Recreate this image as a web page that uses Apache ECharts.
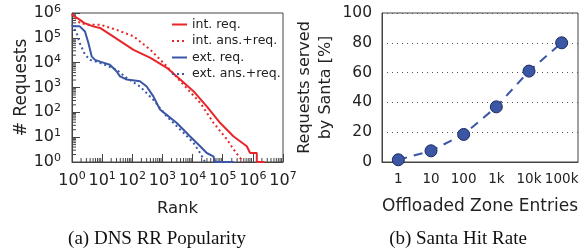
<!DOCTYPE html>
<html>
<head>
<meta charset="utf-8">
<script src="https://cdn.jsdelivr.net/npm/echarts@6/dist/echarts.min.js"></script>
<style>
  html, body { margin: 0; padding: 0; background: #fff; }
  #chart { width: 587px; height: 252px; }
</style>
</head>
<body>
<div id="chart"></div>
<script>
// (a) DNS RR popularity, rank vs. requests (log/log)
var intReqRank   = [1, 1.8, 2.5, 5, 8.5, 23, 110, 400, 1400, 3900, 10700, 29500, 83000, 230000, 630000, 810000, 1350000, 1350000, 2500000];
var intReqCount  = [850000, 540000, 400000, 290000, 250000, 115000, 33000, 15500, 6200, 2100, 710, 174, 37, 10.7, 4.3, 2.3, 2.3, 1, 1];
var intAnsRank   = [1, 1.8, 3.1, 8.5, 30, 110, 400, 1400, 5000, 18000, 50000, 140000, 230000, 340000, 490000];
var intAnsCount  = [930000, 400000, 340000, 340000, 210000, 115000, 33000, 7100, 1300, 240, 37, 8, 3.2, 1.7, 1];
var extReqRank   = [1, 1.8, 2.7, 3.5, 4.5, 5.8, 8.5, 18, 30, 39, 66, 180, 300, 500, 830, 1380, 3000, 8300, 17800, 29500, 49000, 56000, 56000, 230000];
var extReqCount  = [290000, 290000, 180000, 62000, 18000, 13000, 11000, 8300, 4500, 2800, 2100, 1800, 1100, 440, 130, 79, 37, 10.7, 4.3, 2.3, 1.7, 1.7, 1, 1];
var extAnsRank   = [1, 1.43, 1.8, 2.7, 4, 8.5, 30, 66, 180, 500, 1380, 5000, 10700, 17800, 26000];
var extAnsCount  = [340000, 155000, 62000, 21000, 13000, 9800, 5200, 2400, 1100, 320, 69, 15, 5.9, 2.3, 1];

// (b) Santa hit rate
var zoneEntries = ['1', '10', '100', '1k', '10k', '100k'];
var hitRate     = [1.5, 7.5, 18.5, 37, 61, 80];

var RED = '#e8262a';
var BLUE = '#3a56a5';
var FONT = 'DejaVu Sans';

function pairs(xs, ys) {
    var out = [];
    for (var i = 0; i < xs.length; i++) out.push([xs[i], ys[i]]);
    return out;
}

// log minor ticks (2..9 x 10^k), placed through the axes
var minorX = [], minorY = [];
for (var k = 0; k < 7; k++) {
    for (var m = 2; m < 10; m++) {
        minorX.push([m * Math.pow(10, k), 1]);
        if (k < 6) minorY.push([1, m * Math.pow(10, k)]);
    }
}

function powLabel(value) {
    var e = Math.round(Math.log(value) / Math.LN10);
    return '{b|10}{s|' + e + '}';
}
var powRich = {
    b: {fontFamily: FONT, fontSize: 16, color: '#222', lineHeight: 19},
    s: {fontFamily: FONT, fontSize: 11, color: '#222', verticalAlign: 'top', lineHeight: 19}
};

var chart = echarts.init(document.getElementById('chart'));

var option = {
    animation: false,
    backgroundColor: '#fff',
    title: [
        {text: '(a) DNS RR Popularity', left: 152, top: 225, textAlign: 'center',
            textStyle: {fontFamily: 'Liberation Serif', fontSize: 19, fontWeight: 'normal', color: '#111'}},
        {text: '(b) Santa Hit Rate', left: 453, top: 225, textAlign: 'center',
            textStyle: {fontFamily: 'Liberation Serif', fontSize: 19, fontWeight: 'normal', color: '#111'}}
    ],
    legend: {
        orient: 'vertical',
        left: 166,
        top: 13,
        itemWidth: 15,
        itemHeight: 10,
        itemGap: 3.5,
        itemStyle: {opacity: 0},
        textStyle: {fontFamily: FONT, fontSize: 12.5, color: '#222'},
        data: ['int. req.', 'int. ans.+req.', 'ext. req.', 'ext. ans.+req.']
    },
    grid: [
        {left: 72, top: 13, width: 211, height: 149, show: true, borderColor: '#444', borderWidth: 1},
        {left: 382, top: 13, width: 196, height: 149, show: true, borderColor: '#444', borderWidth: 1}
    ],
    xAxis: [
        {
            gridIndex: 0, type: 'log', logBase: 10, min: 1, max: 10000000, splitNumber: 7,
            axisLine: {lineStyle: {color: '#444'}},
            axisTick: {inside: true, length: 8, lineStyle: {color: '#444'}},
            splitLine: {show: false},
            axisLabel: {formatter: powLabel, rich: powRich, margin: 9},
            name: 'Rank', nameLocation: 'middle', nameGap: 38,
            nameTextStyle: {fontFamily: FONT, fontSize: 16.5, color: '#222'}
        },
        {
            gridIndex: 1, type: 'category', data: zoneEntries,
            axisLine: {lineStyle: {color: '#444'}},
            axisTick: {inside: true, alignWithLabel: true, length: 10, lineStyle: {color: '#444'}},
            axisLabel: {fontFamily: FONT, fontSize: 13.5, color: '#222', margin: 10, interval: 0, hideOverlap: false},
            name: 'Offloaded Zone Entries', nameLocation: 'middle', nameGap: 36,
            nameTextStyle: {fontFamily: FONT, fontSize: 17, color: '#222'}
        }
    ],
    yAxis: [
        {
            gridIndex: 0, type: 'log', logBase: 10, min: 1, max: 1000000, splitNumber: 6,
            axisLine: {lineStyle: {color: '#444'}},
            axisTick: {inside: true, length: 8, lineStyle: {color: '#444'}},
            splitLine: {show: false},
            axisLabel: {formatter: powLabel, rich: powRich, margin: 11},
            name: '# Requests', nameLocation: 'middle', nameGap: 42,
            nameTextStyle: {fontFamily: FONT, fontSize: 17, color: '#222'}
        },
        {
            gridIndex: 1, type: 'value', min: 0, max: 100, interval: 20,
            axisLine: {show: true, lineStyle: {color: '#444'}},
            axisTick: {show: false},
            splitLine: {show: true, lineStyle: {color: '#555', type: [1, 4], width: 1}},
            axisLabel: {fontFamily: FONT, fontSize: 15.5, color: '#222', margin: 10},
            name: 'Requests served\nby Santa [%]', nameLocation: 'middle', nameGap: 46,
            nameTextStyle: {fontFamily: FONT, fontSize: 16, color: '#222', lineHeight: 21}
        }
    ],
    series: [
        {
            name: 'int. req.', type: 'line', xAxisIndex: 0, yAxisIndex: 0,
            data: pairs(intReqRank, intReqCount), showSymbol: false, symbol: 'none',
            lineStyle: {color: RED, width: 2}, itemStyle: {color: RED}
        },
        {
            name: 'int. ans.+req.', type: 'line', xAxisIndex: 0, yAxisIndex: 0,
            data: pairs(intAnsRank, intAnsCount), showSymbol: false, symbol: 'none',
            lineStyle: {color: RED, width: 2, type: [2, 3]}, itemStyle: {color: RED}
        },
        {
            name: 'ext. req.', type: 'line', xAxisIndex: 0, yAxisIndex: 0,
            data: pairs(extReqRank, extReqCount), showSymbol: false, symbol: 'none',
            lineStyle: {color: BLUE, width: 2}, itemStyle: {color: BLUE}
        },
        {
            name: 'ext. ans.+req.', type: 'line', xAxisIndex: 0, yAxisIndex: 0,
            data: pairs(extAnsRank, extAnsCount), showSymbol: false, symbol: 'none',
            lineStyle: {color: BLUE, width: 2, type: [2, 3]}, itemStyle: {color: BLUE}
        },
        {
            // minor ticks on the log axes
            type: 'custom', xAxisIndex: 0, yAxisIndex: 0, silent: true, clip: false,
            data: minorX.concat(minorY),
            renderItem: function (params, api) {
                var p = api.coord([api.value(0), api.value(1)]);
                var onX = params.dataIndex < minorX.length;
                return {
                    type: 'line',
                    shape: onX ? {x1: p[0], y1: p[1], x2: p[0], y2: p[1] - 4}
                               : {x1: p[0], y1: p[1], x2: p[0] + 4, y2: p[1]},
                    style: {stroke: '#444', lineWidth: 1}
                };
            },
            z: 1
        },
        {
            name: 'hit', type: 'line', xAxisIndex: 1, yAxisIndex: 1,
            data: hitRate, symbol: 'circle', symbolSize: 12,
            lineStyle: {color: BLUE, width: 2, type: [9, 7]},
            itemStyle: {color: BLUE, borderColor: '#1c2a5c', borderWidth: 1}
        }
    ]
};

chart.setOption(option);
</script>
</body>
</html>
